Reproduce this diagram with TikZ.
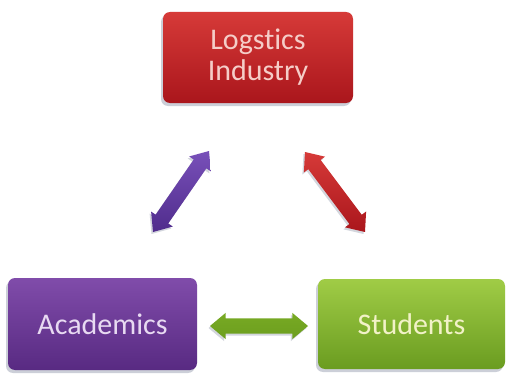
\documentclass[tikz,border=0pt]{standalone}
\usepackage{fontspec}
\setmainfont{Carlito}[Ligatures={NoCommon}]
\usetikzlibrary{shapes.arrows,shadows,calc}

% box colours: top / middle / bottom of each gradient
\definecolor{redTop}{RGB}{214,58,56}
\definecolor{redMid}{RGB}{198,34,38}
\definecolor{redBot}{RGB}{170,22,28}
\definecolor{purTop}{RGB}{128,76,170}
\definecolor{purMid}{RGB}{104,54,150}
\definecolor{purBot}{RGB}{88,42,130}
\definecolor{grnTop}{RGB}{160,204,70}
\definecolor{grnMid}{RGB}{126,180,44}
\definecolor{grnBot}{RGB}{106,156,32}
\definecolor{arrPurTop}{RGB}{120,80,185}
\definecolor{arrPurMid}{RGB}{98,58,165}
\definecolor{arrPurBot}{RGB}{80,44,140}
\definecolor{arrGrnTop}{RGB}{120,170,36}
\definecolor{arrGrnMid}{RGB}{182,222,100}
\definecolor{arrGrnBot}{RGB}{108,158,30}
\definecolor{redText}{RGB}{245,205,200}
\definecolor{purText}{RGB}{232,218,242}
\definecolor{grnText}{RGB}{242,242,200}
\definecolor{shadowGray}{RGB}{110,120,145}

\begin{document}
\begin{tikzpicture}[x=1pt,y=1pt,
  box/.style={rounded corners=7pt, inner sep=0pt, align=center,
    font=\fontsize{30}{31}\selectfont,
    drop shadow={shadow xshift=-2pt, shadow yshift=-3pt, opacity=0.35, fill=shadowGray}},
  redbox/.style={box, top color=redTop, middle color=redMid, bottom color=redBot, text=redText},
  purbox/.style={box, top color=purTop, middle color=purMid, bottom color=purBot, text=purText},
  grnbox/.style={box, top color=grnTop, middle color=grnMid, bottom color=grnBot, text=grnText},
  darrow/.style={double arrow, inner sep=0pt, inner ysep=7.5pt,
    double arrow head extend=5.5pt, double arrow tip angle=80,
    drop shadow={shadow xshift=-1.5pt, shadow yshift=-2pt, opacity=0.3, fill=shadowGray}},
]
\useasboundingbox (0,0) rectangle (507,376);
\fill[white] (0,0) rectangle (507,376);

% the three partners
\node[redbox, minimum width=190pt, minimum height=91pt] (ind) at (258,318.5) {Logstics\\Industry};
\node[purbox, minimum width=189pt, minimum height=92pt] (aca) at (102.5,52) {Academics};
\node[grnbox, minimum width=187pt, minimum height=90pt] (stu) at (411.5,52) {Students};

% end points of the two-way arrows
\coordinate (pa) at (153,144);
\coordinate (pb) at (209,225);
\coordinate (ra) at (305,224);
\coordinate (rb) at (365,144);
\coordinate (ga) at (210,50);
\coordinate (gb) at (308,50);

% two-way arrows between each pair
\foreach \s/\e/\ct/\cm/\cb in {pa/pb/arrPurTop/arrPurMid/arrPurBot, ra/rb/redTop/redMid/redBot, ga/gb/arrGrnTop/arrGrnMid/arrGrnBot}{
  \path let \p1 = ($(\e)-(\s)$), \n1 = {atan2(\y1,\x1)}, \n2 = {veclen(\x1,\y1)} in
    node[darrow, rotate=\n1, minimum height=\n2, top color=\ct, middle color=\cm, bottom color=\cb]
      at ($(\s)!0.5!(\e)$) {};
}
\end{tikzpicture}
\end{document}
